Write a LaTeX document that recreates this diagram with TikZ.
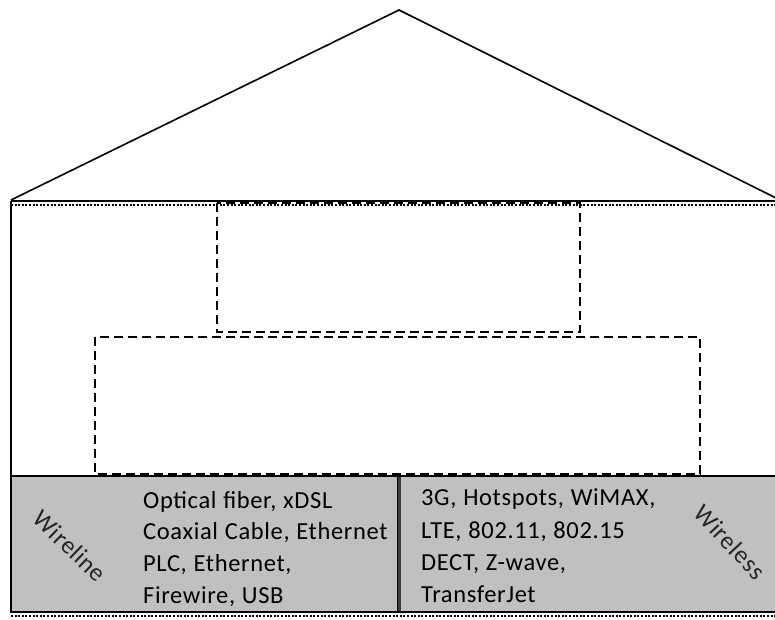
\documentclass[tikz,border=0pt]{standalone}
\usepackage{fontspec}
\setmainfont{Carlito}
\newfontfamily\spacedfont[LetterSpace=2.6,WordSpace=1.1]{Carlito}
\definecolor{bandgray}{RGB}{192,192,192}
\definecolor{divgray}{RGB}{60,60,60}
\begin{document}
\begin{tikzpicture}[x=1pt,y=-1pt,
  wall/.style={line width=2pt},
  roofline/.style={line width=1.6pt, line join=miter},
  zone/.style={line width=2pt, dash pattern=on 9pt off 5pt},
  hairdots/.style={line width=1.6pt, dash pattern=on 2pt off 1.6pt},
  listtext/.style={font=\spacedfont\fontsize{24.5}{30}\selectfont, anchor=base west, inner sep=0pt},
  tag/.style={font=\spacedfont\fontsize{25}{30}\selectfont, inner sep=0pt, text=black!85}
]
\useasboundingbox (0,0) rectangle (775,619);

% roof
\coordinate (eaveL) at (11,200);
\coordinate (apex) at (399,10);
\coordinate (eaveR) at (776,198);
\draw[roofline] (eaveL) -- (apex) -- (eaveR);

% floor band with the two access groups
\fill[bandgray] (11,476) rectangle (776,612);
\draw[line width=1.5pt] (398,476) -- (776,476);
\draw[line width=1.5pt] (398,612) -- (776,612);
\draw[line width=1.5pt] (11,476) rectangle (398,612);
\draw[line width=2.5pt, divgray] (399.5,477) -- (399.5,611);

% dotted outline just inside the walls
\draw[hairdots] (11,205) -- (776,205);
\draw[hairdots] (11,616) -- (776,616);

% house walls
\draw[wall] (11,201) -- (776,201);
\draw[wall] (11,201) -- (11,612);

% inner zones
\draw[zone] (217,203) rectangle (580,332);
\draw[zone] (95,337) rectangle (700,474);

% wireline technologies
\node[listtext] (w1) at (143,508) {Optical fiber, xDSL};
\node[listtext] (w2) at (143,539) {Coaxial Cable, Ethernet};
\node[listtext] (w3) at (143,571) {PLC, Ethernet,};
\node[listtext] (w4) at (143,603) {Firewire, USB};

% wireless technologies
\node[listtext] (r1) at (421,505) {3G, Hotspots, WiMAX,};
\node[listtext] (r2) at (421,538) {LTE, 802.11, 802.15};
\node[listtext] (r3) at (421,570) {DECT, Z-wave,};
\node[listtext] (r4) at (421,602) {TransferJet};

% group labels
\node[tag, rotate=-44] (wireline) at (70,546) {Wireline};
\node[tag, rotate=-47] (wireless) at (730,542) {Wireless};
\end{tikzpicture}
\end{document}
